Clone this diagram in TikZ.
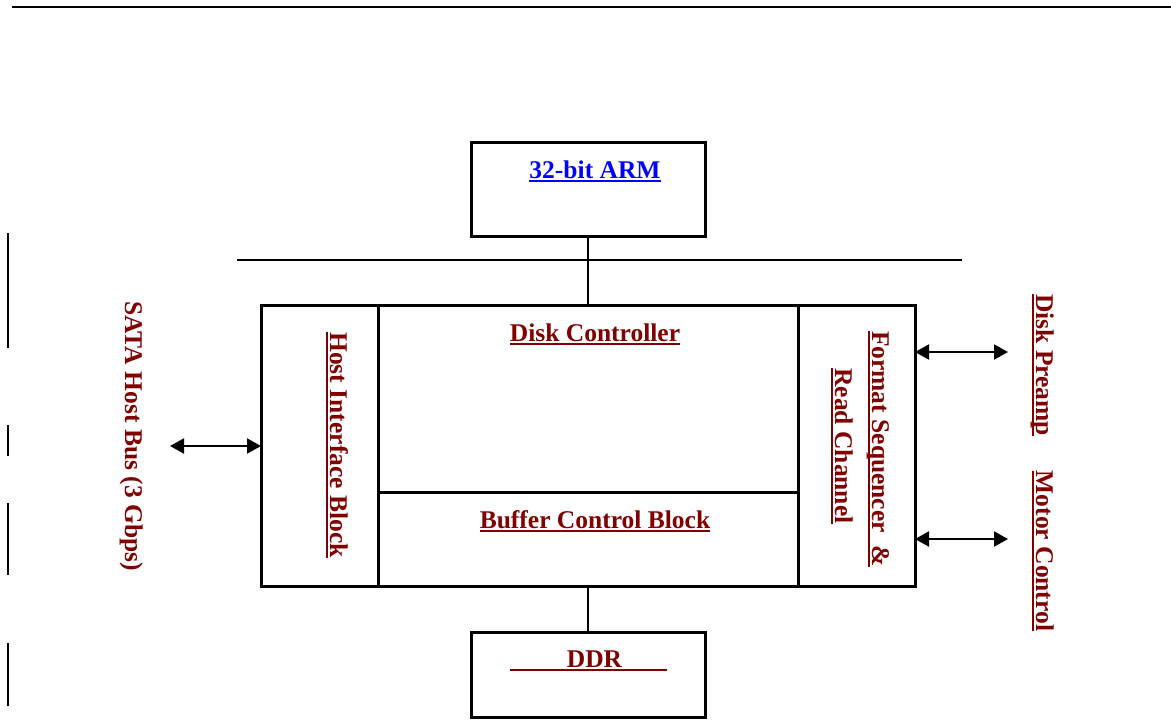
\documentclass[tikz,border=0pt]{standalone}
\usepackage{fontspec}
\setmainfont{Liberation Serif}
\usetikzlibrary{arrows.meta}
\definecolor{maroon}{RGB}{128,0,0}
\definecolor{linkblue}{RGB}{0,0,255}
\newsavebox{\myulbox}
\newcommand{\ulx}[1]{\sbox{\myulbox}{#1}\rlap{\rule[-4.2pt]{\wd\myulbox}{2.6pt}}\usebox{\myulbox}}
\begin{document}
\begin{tikzpicture}[x=1pt,y=-1pt,
  blk/.style={draw=black, line width=3pt, rectangle, inner sep=0pt, outer sep=0pt},
  lbl/.style={font=\fontsize{25.5}{30}\selectfont\bfseries, text=maroon, inner sep=0pt, outer sep=0pt, anchor=base},
  vlbl/.style={lbl, rotate=-90},
  wire/.style={line width=2pt, draw=black},
  bidir/.style={line width=2pt, draw=black, {Triangle[length=14pt,width=15pt]}-{Triangle[length=14pt,width=15pt]}}
]
\useasboundingbox (0,0) rectangle (1171,721);

% top rule and left margin marks
\coordinate (topL) at (12,7);
\coordinate (topR) at (1171,7);
\draw[line width=2.5pt] (topL) -- (topR);
\coordinate (m1a) at (8,233); \coordinate (m1b) at (8,348);
\coordinate (m2a) at (8,425); \coordinate (m2b) at (8,456);
\coordinate (m3a) at (8,503); \coordinate (m3b) at (8,575);
\coordinate (m4a) at (8,643); \coordinate (m4b) at (8,706);
\draw[wire] (m1a) -- (m1b);
\draw[wire] (m2a) -- (m2b);
\draw[wire] (m3a) -- (m3b);
\draw[wire] (m4a) -- (m4b);

% boxes
\node[blk, minimum width=234pt, minimum height=94pt] (arm) at (588,189) {};
\node[blk, minimum width=117pt, minimum height=281pt] (hib) at (319.5,445.5) {};
\node[blk, minimum width=420pt, minimum height=187pt] (dc) at (588,398.5) {};
\node[blk, minimum width=420pt, minimum height=94pt] (bcb) at (588,539) {};
\node[blk, minimum width=117pt, minimum height=281pt] (fsr) at (856.5,445.5) {};
\node[blk, minimum width=234pt, minimum height=85pt] (ddr) at (588,674.5) {};

% bus
\coordinate (busL) at (237,260);
\coordinate (busR) at (962,260);
\draw[wire] (busL) -- (busR);
\draw[wire] (arm.south) -- (dc.north);
\draw[wire] (bcb.south) -- (ddr.north);

% labels inside boxes
\node[lbl, text=linkblue] (armt) at (595,178) {\ulx{32-bit ARM}};
\node[lbl] (dct) at (595,341) {\ulx{Disk Controller}};
\node[lbl] (bcbt) at (595,528) {\ulx{Buffer Control Block}};
\node[lbl] (ddrt) at (588.5,667) {\ulx{\makebox[57pt]{}DDR\makebox[45pt]{}}};
\node[vlbl] (hibt) at (330,445) {\ulx{Host Interface Block}};
\node[vlbl] (fsrt1) at (872,449) {\ulx{Format Sequencer\ \ \&}};
\node[vlbl] (fsrt2) at (835,446) {\ulx{Read Channel}};

% external labels
\node[vlbl] (sata) at (125,436) {SATA Host Bus (3 Gbps)};
\node[vlbl] (preamp) at (1036,365) {\ulx{Disk Preamp}};
\node[vlbl] (motor) at (1036,551) {\ulx{Motor Control}};

% arrows
\coordinate (sataEnd) at (170,446);
\coordinate (preEnd) at (1008,352);
\coordinate (motEnd) at (1008,539);
\draw[bidir] (sataEnd) -- (sataEnd -| hib.west);
\draw[bidir] (preEnd -| fsr.east) -- (preEnd);
\draw[bidir] (motEnd -| fsr.east) -- (motEnd);
\end{tikzpicture}
\end{document}
